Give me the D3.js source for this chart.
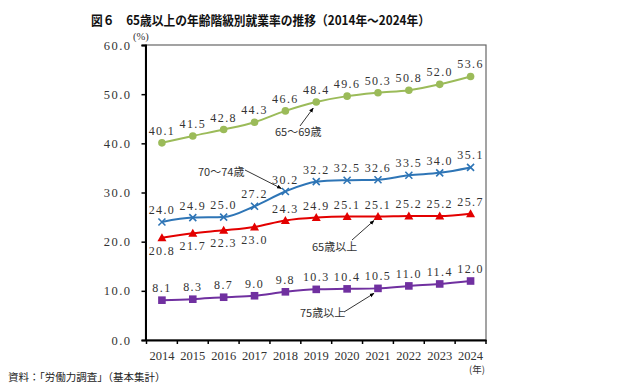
<!DOCTYPE html>
<html>
  <head>
    <meta charset="utf-8" />
    <script src="https://d3js.org/d3.v7.min.js"></script>
  </head>
  <body>
    <svg id="viz" width="636" height="388"></svg>
  </body>
  <script>
    const years = ["2014", "2015", "2016", "2017", "2018", "2019", "2020", "2021", "2022", "2023", "2024"];
    const age65to69 = [40.1, 41.5, 42.8, 44.3, 46.6, 48.4, 49.6, 50.3, 50.8, 52.0, 53.6];
    const age70to74 = [24.0, 24.9, 25.0, 27.2, 30.2, 32.2, 32.5, 32.6, 33.5, 34.0, 35.1];
    const age65plus = [20.8, 21.7, 22.3, 23.0, 24.3, 24.9, 25.1, 25.1, 25.2, 25.2, 25.7];
    const age75plus = [8.1, 8.3, 8.7, 9.0, 9.8, 10.3, 10.4, 10.5, 11.0, 11.4, 12.0];
    const yTicks = [0, 10, 20, 30, 40, 50, 60];

    const series = [
      { name: "65～69歳", values: age65to69, color: "#9bbb59", marker: "circle", below: [] },
      { name: "70～74歳", values: age70to74, color: "#2e75b6", marker: "cross", below: [] },
      { name: "65歳以上", values: age65plus, color: "#e30000", marker: "triangle", below: [0, 1, 2, 3] },
      { name: "75歳以上", values: age75plus, color: "#7030a0", marker: "square", below: [] },
    ];

    const serif = "'Liberation Serif', 'DejaVu Serif', serif";
    const jp = "'Noto Sans CJK JP', sans-serif";
    const mLeft = 145.5, mRight = 486, mTop = 45, mBottom = 340;

    const svg = d3.select("svg#viz");
    svg.append("rect").attr("width", 636).attr("height", 388).attr("fill", "#fff");

    const x = d3.scaleBand().domain(years).range([mLeft + 1, mRight]);
    const y = d3.scaleLinear().domain([0, 60]).range([mBottom, mTop]);
    const cx = (i) => x(years[i]) + x.bandwidth() / 2;

    // title
    svg.append("text")
      .attr("x", 91).attr("y", 25)
      .attr("font-family", jp).attr("font-weight", "bold").attr("font-size", 13)
      .attr("textLength", 339).attr("lengthAdjust", "spacingAndGlyphs")
      .attr("fill", "#111")
      .text("図６　65歳以上の年齢階級別就業率の推移（2014年～2024年）");

    // frame
    svg.append("rect")
      .attr("x", mLeft).attr("y", mTop)
      .attr("width", mRight - mLeft).attr("height", mBottom - mTop)
      .attr("fill", "none").attr("stroke", "#666").attr("stroke-width", 1.2);

    // y axis
    const yAxis = svg.append("g")
      .attr("transform", `translate(${mLeft},0)`)
      .call(d3.axisLeft(y).tickValues(yTicks).tickSize(4).tickFormat(d3.format(".1f")));
    yAxis.select(".domain").attr("stroke", "#000").attr("stroke-width", 2);
    yAxis.selectAll(".tick line").attr("stroke", "#000").attr("stroke-width", 1.5);
    yAxis.selectAll(".tick text")
      .attr("x", -14).attr("font-family", serif).attr("font-size", 12.5)
      .attr("letter-spacing", 1.5).attr("fill", "#333");

    // x axis
    const xAxis = svg.append("g")
      .attr("transform", `translate(0,${mBottom})`)
      .call(d3.axisBottom(x).tickSize(0));
    xAxis.select(".domain").attr("stroke", "#000").attr("stroke-width", 2);
    xAxis.selectAll(".tick text")
      .attr("y", 11).attr("font-family", serif).attr("font-size", 12.5).attr("fill", "#333");
    // tick marks on band boundaries
    xAxis.selectAll("line.bound")
      .data(years.concat(["end"]))
      .join("line")
      .attr("class", "bound")
      .attr("x1", (d, i) => (i < years.length ? x(d) : mRight))
      .attr("x2", (d, i) => (i < years.length ? x(d) : mRight))
      .attr("y1", 0).attr("y2", 4)
      .attr("stroke", "#000").attr("stroke-width", 1.5);

    svg.append("text").attr("x", 133).attr("y", 40)
      .attr("font-family", serif).attr("font-size", 10.5).attr("fill", "#333").text("(%)");
    svg.append("text").attr("x", 477).attr("y", 373).attr("text-anchor", "middle")
      .attr("font-family", jp).attr("font-size", 9.5).attr("fill", "#333").text("(年)");

    // lines
    const line = d3.line()
      .x((d, i) => cx(i))
      .y((d) => y(d))
      .curve(d3.curveMonotoneX);

    series.forEach((s) => {
      const g = svg.append("g");
      g.append("path")
        .attr("d", line(s.values))
        .attr("fill", "none").attr("stroke", s.color).attr("stroke-width", 2);

      const pts = g.selectAll("g.pt").data(s.values).join("g")
        .attr("transform", (d, i) => `translate(${cx(i)},${y(d)})`);
      if (s.marker === "circle") {
        pts.append("circle").attr("r", 3.8).attr("fill", s.color);
      } else if (s.marker === "cross") {
        pts.append("path").attr("d", "M-3.5,-3.5L3.5,3.5M-3.5,3.5L3.5,-3.5")
          .attr("stroke", s.color).attr("stroke-width", 1.6);
      } else if (s.marker === "triangle") {
        pts.append("path").attr("d", "M0,-4.5L4.5,3.5L-4.5,3.5Z").attr("fill", s.color);
      } else {
        pts.append("rect").attr("x", -3.8).attr("y", -3.8).attr("width", 7.6).attr("height", 7.6)
          .attr("fill", s.color);
      }

      g.selectAll("text.lbl").data(s.values).join("text")
        .attr("class", "lbl")
        .attr("x", (d, i) => cx(i))
        .attr("y", (d, i) => (s.below.includes(i) ? y(d) + 17 : y(d) - 8))
        .attr("text-anchor", "middle")
        .attr("font-family", serif).attr("font-size", 12)
        .attr("letter-spacing", 1.4).attr("fill", "#333")
        .text((d) => d3.format(".1f")(d));
    });

    // annotations
    svg.append("defs").append("marker")
      .attr("id", "ah").attr("viewBox", "0 0 10 10").attr("refX", 9).attr("refY", 5)
      .attr("markerWidth", 6).attr("markerHeight", 6).attr("orient", "auto")
      .append("path").attr("d", "M0,1L10,5L0,9Z").attr("fill", "#000");

    const notes = [
      { text: "65～69歳", idx: 5, s: age65to69, tx: 275, ty: 136, from: [300, 126], off: [-3, 6] },
      { text: "70～74歳", idx: 4, s: age70to74, tx: 198, ty: 176, from: [245, 170], off: [-4, -3] },
      { text: "65歳以上", idx: 7, s: age65plus, tx: 312, ty: 251, from: [352, 240], off: [-4, 4] },
      { text: "75歳以上", idx: 7, s: age75plus, tx: 300, ty: 317, from: [344, 312], off: [-4, 5] },
    ];
    notes.forEach((n) => {
      svg.append("line")
        .attr("x1", n.from[0]).attr("y1", n.from[1])
        .attr("x2", cx(n.idx) + n.off[0]).attr("y2", y(n.s[n.idx]) + n.off[1])
        .attr("stroke", "#000").attr("stroke-width", 0.8)
        .attr("marker-end", "url(#ah)");
      svg.append("text").attr("x", n.tx).attr("y", n.ty)
        .attr("font-family", jp).attr("font-size", 11).attr("fill", "#333").text(n.text);
    });

    svg.append("text").attr("x", 8).attr("y", 381)
      .attr("font-family", jp).attr("font-size", 10.5).attr("fill", "#222")
      .text("資料：「労働力調査」（基本集計）");
  </script>
  <style>
    body {
      margin: 0px;
    }
  </style>
</html>
